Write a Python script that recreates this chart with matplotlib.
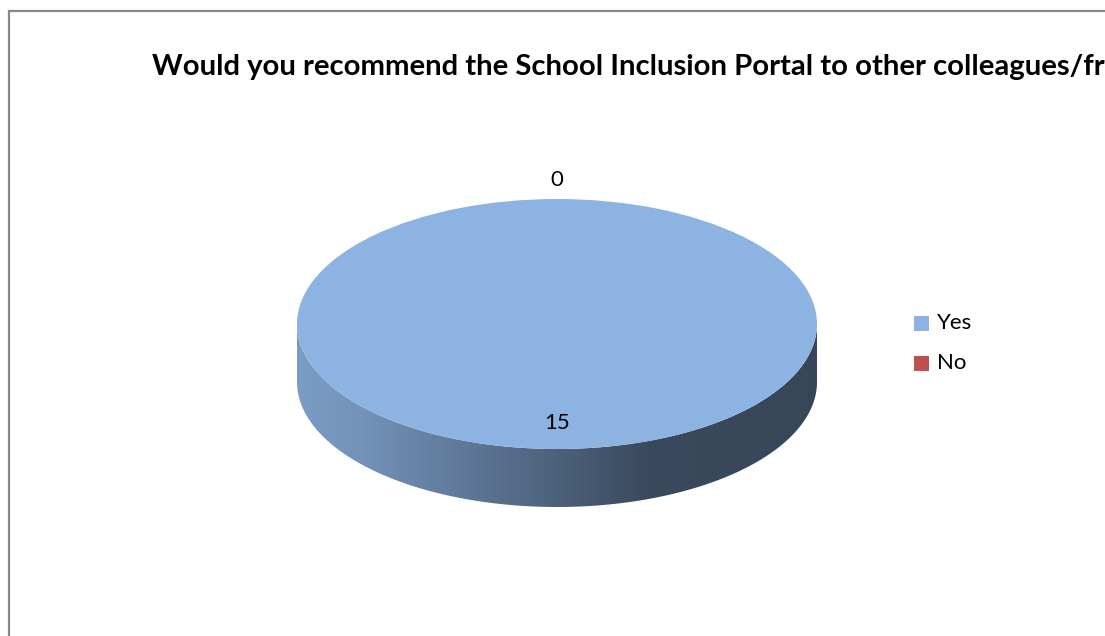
import numpy as np
import matplotlib
matplotlib.use("Agg")
import matplotlib.pyplot as plt
from matplotlib.patches import Wedge, Rectangle, PathPatch
from matplotlib.path import Path
from matplotlib.transforms import Affine2D
from matplotlib.colors import to_rgb

# Survey answers
categories = ["Yes", "No"]
responses = [15, 0]
slice_colors = ["#8DB3E2", "#C0504D"]
title_text = "Would you recommend the School Inclusion Portal to other colleagues/friends?"

W, H = 1105, 636
fig = plt.figure(figsize=(W / 100, H / 100), dpi=100)
ax = fig.add_axes([0, 0, 1, 1])
ax.axis("off")

FONT = "Lato"

# chart frame (left and top edges visible)
ax.plot([9, 9, W + 5], [H + 5, 11, 11], color="#888888", lw=1.6,
        solid_joinstyle="miter", zorder=1)

ax.text(152, 67, title_text, fontsize=21.1, fontweight="bold", family=FONT,
        ha="left", va="center", color="black")

# 3-D pie geometry
cx, cy = 557, 324
rx, ry = 260, 125
depth = 58

vals = np.array(responses, dtype=float)
fracs = vals / vals.sum()
start = -90.0  # 12 o'clock, drawing clockwise on screen
bounds = start + 360.0 * np.concatenate([[0], np.cumsum(fracs)])


def side_shade(u):
    # lighting across the rim: bright on the left, dark on the right
    return np.interp(u, [0.0, 0.12, 0.68, 1.0], [0.87, 0.82, 0.41, 0.39])


# rim (front side of the disc)
for i, col in enumerate(slice_colors):
    t1, t2 = bounds[i], bounds[i + 1]
    if t2 - t1 <= 0:
        continue
    # visible front part is where the angle lies in [0, 180] (mod 360)
    ts = np.linspace(t1, t2, 721)
    tm = np.mod(ts, 360)
    vis = (tm >= 0) & (tm <= 180)
    if not vis.any():
        continue
    tv = np.linspace(0, 180, 361) if vis.all() or (t2 - t1) >= 360 else ts[vis]
    tr = np.radians(tv)
    xs = cx + rx * np.cos(tr)
    ys_top = cy + ry * np.sin(tr)
    ys_bot = ys_top + depth
    verts = np.concatenate([np.column_stack([xs, ys_top]),
                            np.column_stack([xs[::-1], ys_bot[::-1]])])
    path = Path(np.vstack([verts, verts[:1]]),
                [Path.MOVETO] + [Path.LINETO] * (len(verts) - 1) + [Path.CLOSEPOLY])
    clip = PathPatch(path, facecolor="none", edgecolor="none", transform=ax.transData)
    ax.add_patch(clip)
    u = np.linspace(0, 1, 400)
    base = np.array(to_rgb(col))
    grad = np.clip(side_shade(u)[:, None] * base[None, :], 0, 1)
    img = np.repeat(grad[None, :, :], 2, axis=0)
    im = ax.imshow(img, extent=(cx - rx, cx + rx, cy + ry + depth, cy - ry),
                   aspect="auto", interpolation="bilinear", zorder=2)
    im.set_clip_path(clip)

# top face
ellipse_tf = Affine2D().scale(rx, ry).translate(cx, cy) + ax.transData
for i, col in enumerate(slice_colors):
    t1, t2 = bounds[i], bounds[i + 1]
    if t2 - t1 <= 0:
        continue
    ax.add_patch(Wedge((0, 0), 1, t1, t2, facecolor=col, edgecolor="none",
                       transform=ellipse_tf, zorder=3))

# value labels at each slice's middle angle
for i, v in enumerate(responses):
    mid = np.radians((bounds[i] + bounds[i + 1]) / 2)
    r = 0.79 if fracs[i] > 0 else 1.15
    ax.text(cx + r * rx * np.cos(mid), cy + r * ry * np.sin(mid), str(v),
            fontsize=16, family=FONT, ha="center", va="center", zorder=4)

# legend
leg_x, leg_y, step, box = 914, 323, 40, 15
for i, (cat, col) in enumerate(zip(categories, slice_colors)):
    y = leg_y + i * step
    ax.add_patch(Rectangle((leg_x, y - box / 2), box, box, facecolor=col,
                           edgecolor="none", zorder=4))
    ax.text(leg_x + box + 8, y, cat, fontsize=16, family=FONT,
            ha="left", va="center", zorder=4)

ax.set_xlim(0, W)
ax.set_ylim(H, 0)
fig.savefig("out.png", dpi=100)
